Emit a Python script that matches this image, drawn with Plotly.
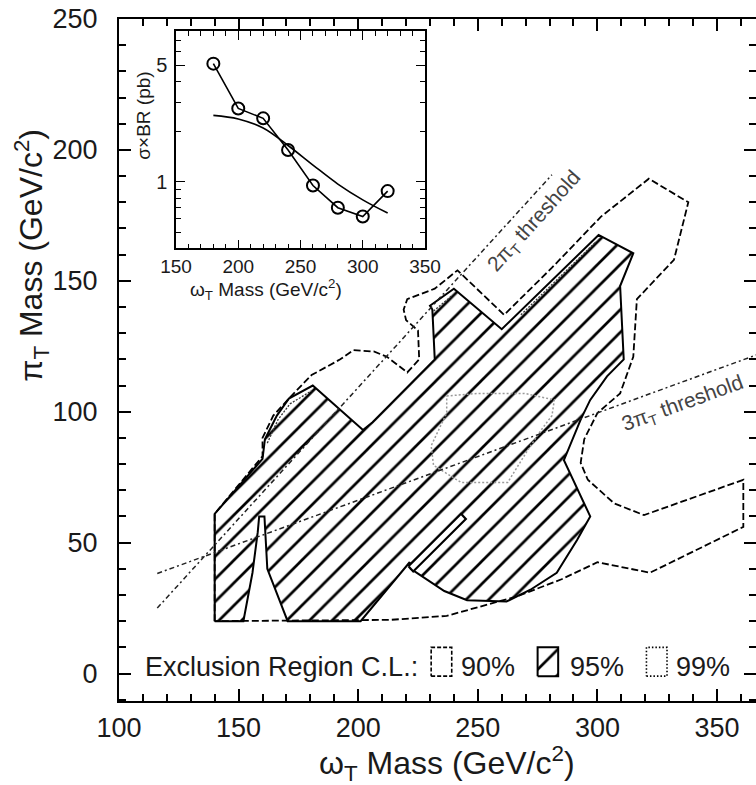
import plotly.graph_objects as go
import math

# ---------------- data ----------------
# inset: observed limit and theory cross section
inset_mass = [180, 200, 220, 240, 260, 280, 300, 320]
inset_limit = [5.1, 2.75, 2.4, 1.55, 0.95, 0.70, 0.62, 0.88]
theory_mass = [180, 200, 220, 240, 260, 280, 300, 320]
theory_xsec = [2.5, 2.38, 2.1, 1.65, 1.26, 0.97, 0.78, 0.65]

# 95% C.L. exclusion contour (hatched)
cl95_omega = [140, 140, 160, 161, 166, 171, 181, 191, 202, 206, 232, 231, 230, 240, 260, 300.5,
              315, 309.5, 311, 304, 297, 293, 286, 297, 291.5, 283, 272, 262, 245.5, 236, 222,
              221.5, 201, 170.5, 162, 160.8, 158.6, 158, 155.8, 152, 140]
cl95_pi = [20, 61, 82, 89.5, 98.5, 105, 110, 102, 93, 96, 120, 139, 140.5, 147, 131.5, 167.5,
           160.5, 148, 120, 113.5, 104.5, 97, 81.5, 60, 51, 38.5, 32, 27.5, 28, 31.5, 40,
           42.5, 20, 20, 40, 60, 60, 54, 38.5, 20, 20]

# 90% C.L. exclusion contour (dashed)
cl90_omega = [140, 140, 160, 160, 164.5, 172, 180.5, 192.5, 198, 206.5, 212, 220.5, 225.5, 225,
              220, 219, 220.5, 232, 241.5, 261, 281, 301.5, 321.5, 338, 332, 316.5, 315, 309.5,
              300, 294.5, 293, 296, 307, 319.5, 361, 361, 322, 308.5, 300, 285, 266.5, 237,
              213.5, 140]
cl90_pi = [20, 61, 83, 90, 98.5, 106, 114, 120, 123.5, 123, 121, 115, 120, 131, 135, 139, 143,
           147, 154, 137, 155, 174.5, 189, 180, 158, 143, 121, 107, 99.5, 89.5, 80.5, 74, 65,
           60.5, 74, 56, 38.5, 41, 42.5, 36, 29.5, 22, 20.5, 20]

# 99% C.L. exclusion contours (dotted)
cl99_omega = [237, 250, 269.5, 282, 281, 276.5, 271, 262.5, 243, 231.5, 230.5, 237, 237]
cl99_pi = [106, 107, 107, 104.5, 98.5, 93, 85.5, 73, 73, 79.5, 87, 99.5, 106]
cl99b_omega = [221, 223, 245, 243, 221]
cl99b_pi = [41, 39, 59, 61, 41]
# 99% contour pieces running just inside the 95% upper edges
cl99c_omega = [162, 166.5, 171.5, 180.5, None, 231.5, 239.5, None, 268, 299.5]
cl99c_pi = [88, 97, 103, 108, None, 138.5, 144.5, None, 137, 165]

# kinematic thresholds
thr2_omega = [116, 281]
thr2_pi = [25, 190.5]
thr3_omega = [116, 368]
thr3_pi = [38.2, 122.2]

x_ticks = [100, 150, 200, 250, 300, 350]
y_ticks = [0, 50, 100, 150, 200, 250]
inset_x_ticks = [150, 200, 250, 300, 350]
inset_y_ticks = [1, 5]
inset_y_minor = [0.4, 0.5, 0.6, 0.7, 0.8, 0.9, 2, 3, 4, 6, 7, 8]
legend_labels = ["90%", "95%", "99%"]

# ---------------- style / layout constants ----------------
FONT = "Liberation Sans, Arial, Helvetica, sans-serif"
TXT = "#1a1a1a"
HATCH = dict(shape="/", fgcolor="black", bgcolor="white", fgopacity=1, size=16, solidity=0.17)

# legend placement (data coordinates of the main axes)
LEG_TITLE_X = 110.0
LEG_Y = 2.6
LEG_BOX_X0 = [230.5, 275.0, 320.5]
LEG_BOX_W = 8.6
LEG_BOX_Y = (-1.0, 10.0)
LEG_LABEL_X = [242.0, 287.5, 332.0]
LEG_DASH = ["dash", "solid", "dot"]

fig = go.Figure()

# 95% hatched region
fig.add_trace(go.Scatter(x=cl95_omega, y=cl95_pi, mode="lines", fill="toself",
                         fillcolor="white", fillpattern=HATCH,
                         line=dict(color="black", width=2), hoverinfo="skip",
                         showlegend=False))
# 99% contours
fig.add_trace(go.Scatter(x=cl99b_omega, y=cl99b_pi, mode="lines", fill="toself",
                         fillcolor="white", line=dict(color="black", width=2.2),
                         showlegend=False, hoverinfo="skip"))
fig.add_trace(go.Scatter(x=cl99_omega, y=cl99_pi, mode="lines",
                         line=dict(color="#9a9a9a", width=1.5, dash="2px,2px"),
                         showlegend=False, hoverinfo="skip"))
fig.add_trace(go.Scatter(x=cl99c_omega, y=cl99c_pi, mode="lines", connectgaps=False,
                         line=dict(color="#333", width=1.3, dash="2px,1.5px"),
                         showlegend=False, hoverinfo="skip"))
# 90% dashed contour
fig.add_trace(go.Scatter(x=cl90_omega, y=cl90_pi, mode="lines",
                         line=dict(color="black", width=1.8, dash="7px,3px"),
                         showlegend=False, hoverinfo="skip"))
# thresholds
for xs, ys in ((thr2_omega, thr2_pi), (thr3_omega, thr3_pi)):
    fig.add_trace(go.Scatter(x=xs, y=ys, mode="lines",
                             line=dict(color="#222", width=1.5, dash="5px,3px,2px,3px"),
                             showlegend=False, hoverinfo="skip"))

# legend boxes
for i, lab in enumerate(legend_labels):
    x0 = LEG_BOX_X0[i]
    x1 = x0 + LEG_BOX_W
    y0, y1 = LEG_BOX_Y
    if LEG_DASH[i] == "solid":
        fig.add_trace(go.Scatter(x=[x0, x1, x1, x0, x0], y=[y0, y0, y1, y1, y0], mode="lines",
                                 fill="toself", fillcolor="white",
                                 fillpattern=dict(shape="/", fgcolor="black", bgcolor="white",
                                                  fgopacity=1, size=18, solidity=0.15),
                                 line=dict(color="black", width=2),
                                 showlegend=False, hoverinfo="skip"))
    else:
        fig.add_trace(go.Scatter(x=[x0, x1, x1, x0, x0], y=[y0, y0, y1, y1, y0], mode="lines",
                                 line=dict(color="black", width=1.6,
                                           dash="4px,2px" if LEG_DASH[i] == "dash" else "1.5px,2px"),
                                 showlegend=False, hoverinfo="skip"))
    fig.add_annotation(x=LEG_LABEL_X[i], y=LEG_Y, xref="x", yref="y", text=lab,
                       showarrow=False, xanchor="left", yanchor="middle",
                       font=dict(family=FONT, size=27, color=TXT))
fig.add_annotation(x=LEG_TITLE_X, y=LEG_Y, xref="x", yref="y", text="Exclusion Region C.L.:",
                   showarrow=False, xanchor="left", yanchor="middle",
                   font=dict(family=FONT, size=27, color=TXT))

# threshold labels
fig.add_annotation(x=273.5, y=172.5, xref="x", yref="y", text="2π<sub>T</sub> threshold",
                   showarrow=False, textangle=-48, xanchor="center", yanchor="middle",
                   font=dict(family=FONT, size=21, color="#444"))
fig.add_annotation(x=335.5, y=103.0, xref="x", yref="y", text="3π<sub>T</sub> threshold",
                   showarrow=False, textangle=-20, xanchor="center", yanchor="middle",
                   font=dict(family=FONT, size=21, color="#444"))

# inset traces
fig.add_trace(go.Scatter(x=theory_mass, y=theory_xsec, mode="lines", xaxis="x2", yaxis="y2",
                         line=dict(color="black", width=1.6, shape="spline"),
                         showlegend=False, hoverinfo="skip"))
fig.add_trace(go.Scatter(x=inset_mass, y=inset_limit, mode="lines+markers", xaxis="x2",
                         yaxis="y2", line=dict(color="black", width=1.6),
                         marker=dict(symbol="circle-open", size=12, color="black",
                                     line=dict(width=2)),
                         showlegend=False, hoverinfo="skip"))

# axis titles
fig.add_annotation(x=0.515, y=-0.092, xref="paper", yref="paper",
                   text="ω<sub>T</sub> Mass (GeV/c<sup>2</sup>)", showarrow=False,
                   xanchor="center", yanchor="middle",
                   font=dict(family=FONT, size=32, color=TXT))
fig.add_annotation(x=-0.137, y=0.654, xref="paper", yref="paper",
                   text="π<sub>T</sub> Mass (GeV/c<sup>2</sup>)", showarrow=False,
                   textangle=-90, xanchor="center", yanchor="middle",
                   font=dict(family=FONT, size=32, color=TXT))
fig.add_annotation(x=0.2308, y=0.603, xref="paper", yref="paper",
                   text="ω<sub>T</sub> Mass (GeV/c<sup>2</sup>)", showarrow=False,
                   xanchor="center", yanchor="middle",
                   font=dict(family=FONT, size=19, color=TXT))
fig.add_annotation(x=0.039, y=0.858, xref="paper", yref="paper",
                   text="σ×BR (pb)", showarrow=False, textangle=-90,
                   xanchor="center", yanchor="middle",
                   font=dict(family=FONT, size=19, color=TXT))

axis_common = dict(showgrid=False, zeroline=False, showline=True, linecolor="black",
                   ticks="inside", tickcolor="black", mirror="allticks", automargin=False)

fig.update_layout(
    width=756, height=785, autosize=False,
    margin=dict(l=119, r=0, t=19, b=84, pad=0),
    paper_bgcolor="white", plot_bgcolor="white",
    xaxis=dict(range=[100, 366.3], domain=[0, 1], tickmode="array", tickvals=x_ticks,
               ticklen=12, tickwidth=1.5, linewidth=2, ticklabelstandoff=2,
               tickfont=dict(family=FONT, size=27, color=TXT),
               minor=dict(ticks="inside", dtick=10, tick0=100, ticklen=7, tickwidth=1.5,
                          tickcolor="black"),
               **axis_common),
    yaxis=dict(range=[-10.5, 250], domain=[0, 1], tickmode="array", tickvals=y_ticks,
               ticklen=12, tickwidth=1.5, linewidth=2, ticklabelstandoff=14,
               tickfont=dict(family=FONT, size=27, color=TXT),
               minor=dict(ticks="inside", dtick=10, tick0=0, ticklen=7, tickwidth=1.5,
                          tickcolor="black"),
               **axis_common),
    xaxis2=dict(range=[150, 350], domain=[0.0895, 0.4804], anchor="y2", tickmode="array",
                tickvals=inset_x_ticks, ticklen=9, tickwidth=1.3, linewidth=1.5,
                ticklabelstandoff=0,
                tickfont=dict(family=FONT, size=19, color=TXT),
                minor=dict(ticks="inside", dtick=10, tick0=150, ticklen=5, tickwidth=1.2,
                           tickcolor="black"),
                **axis_common),
    yaxis2=dict(type="log", range=[math.log10(0.4), math.log10(8)], domain=[0.6638, 0.9824],
                anchor="x2", tickmode="array", tickvals=inset_y_ticks,
                ticktext=[str(v) for v in inset_y_ticks], ticklen=9, tickwidth=1.3,
                linewidth=1.5, ticklabelstandoff=3,
                tickfont=dict(family=FONT, size=20, color=TXT),
                minor=dict(ticks="inside", tickmode="array", tickvals=inset_y_minor,
                           ticklen=5, tickwidth=1.2, tickcolor="black"),
                **axis_common),
    showlegend=False,
)

fig.write_html("out.html")
